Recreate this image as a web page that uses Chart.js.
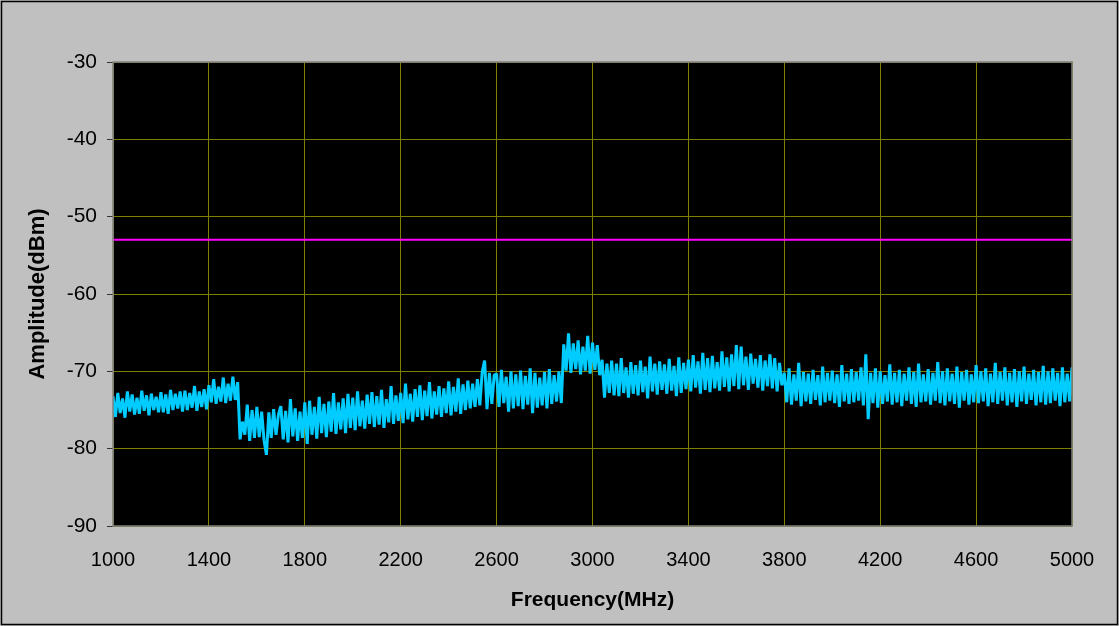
<!DOCTYPE html>
<html lang="en-US">
  <head>
    <meta charset="utf-8" />
    <title>Amplitude vs Frequency</title>
    <script src="https://cdn.jsdelivr.net/npm/chart.js@4/dist/chart.umd.min.js"></script>
    <style>
      html, body { margin: 0; padding: 0; background: #c0c0c0; }
      canvas { display: block; }
    </style>
  </head>
  <body>
    <canvas id="chart" width="1119" height="626"></canvas>
  </body>

  <script>
    // sweep: first frequency and step in MHz, one amplitude per step
    const freqStart = 1000
    const freqStep = 10
    const amplitude = [
      -73.2, -75.9, -72.8, -75.4, -73.5, -76.0, -72.6, -75.2, -73.0, -75.6,
      -73.4, -75.5, -72.5, -75.1, -73.1, -75.7, -72.9, -75.0, -73.3, -75.3,
      -72.7, -75.3, -73.0, -75.5, -72.4, -75.0, -72.9, -74.8, -72.6, -75.2,
      -72.5, -75.0, -72.8, -74.7, -71.9, -75.1, -72.6, -74.6, -72.3, -74.9,
      -71.8, -74.0, -71.0, -74.2, -72.0, -73.9, -70.8, -74.1, -71.6, -73.8,
      -70.7, -73.7, -71.4, -78.8, -76.5, -78.2, -74.3, -79.0, -75.0, -78.6,
      -74.6, -78.5, -75.2, -78.9, -80.8, -75.3, -78.6, -74.9, -78.2, -75.6,
      -74.5, -78.8, -75.1, -79.2, -73.6, -78.4, -74.8, -79.0, -75.2, -78.6,
      -74.0, -79.4, -73.8, -78.2, -74.6, -78.7, -73.3, -78.0, -74.2, -78.5,
      -73.9, -77.8, -72.8, -78.1, -74.0, -77.5, -73.5, -78.0, -72.9, -77.3,
      -73.4, -77.6, -72.6, -77.1, -73.8, -77.4, -73.0, -76.8, -72.7, -77.2,
      -73.2, -76.9, -72.4, -77.3, -73.6, -76.6, -71.9, -76.8, -73.1, -76.4,
      -72.8, -76.7, -71.6, -76.2, -72.9, -76.5, -72.3, -75.9, -71.8, -76.3,
      -72.5, -75.8, -71.4, -76.1, -72.6, -75.6, -71.9, -75.9, -72.2, -75.4,
      -71.3, -75.7, -72.0, -75.2, -70.9, -75.5, -71.7, -75.0, -71.2, -74.8,
      -71.6, -74.6, -71.0, -74.4, -70.1, -68.6, -74.9, -70.2, -74.2, -70.5,
      -70.3, -74.6, -69.8, -74.1, -70.7, -75.2, -70.0, -74.8, -70.4, -74.5,
      -69.9, -74.9, -70.6, -74.3, -69.6, -75.4, -70.2, -74.7, -70.8, -74.4,
      -70.1, -74.8, -69.7, -74.2, -70.5, -73.9, -70.0, -74.1, -66.5, -69.9,
      -65.1, -70.2, -66.4, -69.7, -66.0, -70.4, -66.8, -69.9, -65.4, -70.3,
      -66.3, -69.8, -66.6, -70.5, -68.5, -73.4, -69.0, -72.8, -68.6, -73.1,
      -69.0, -73.2, -68.3, -72.8, -69.5, -73.4, -68.8, -72.9, -69.2, -73.1,
      -68.6, -72.7, -69.4, -73.5, -68.1, -72.6, -69.0, -73.0, -68.7, -72.4,
      -69.1, -72.9, -68.4, -72.5, -69.3, -73.2, -68.2, -72.8, -68.9, -72.3,
      -68.5, -72.6, -67.9, -72.1, -68.7, -72.9, -67.6, -72.4, -68.3, -72.7,
      -68.0, -72.2, -68.8, -72.5, -67.4, -72.0, -68.2, -72.6, -67.8, -71.9,
      -66.6, -72.3, -66.8, -71.8, -68.1, -72.4, -67.7, -71.6, -68.4, -72.1,
      -67.9, -72.5, -68.6, -71.9, -67.8, -72.2, -68.3, -72.6, -68.9, -71.8,
      -70.2, -74.0, -69.6, -74.3, -70.4, -73.8, -68.9, -74.5, -70.1, -73.9,
      -70.3, -74.2, -69.8, -73.7, -70.5, -74.4, -69.4, -74.0, -70.2, -73.8,
      -69.9, -74.1, -70.4, -74.6, -69.2, -73.9, -70.3, -74.2, -69.7, -74.0,
      -70.1, -73.8, -69.5, -74.4, -67.8, -76.2, -70.2, -74.1, -69.6, -74.7,
      -70.0, -74.2, -70.5, -73.9, -69.1, -74.3, -70.2, -74.0, -69.8, -74.5,
      -70.3, -73.8, -69.5, -74.2, -70.1, -74.6, -69.0, -74.0, -70.4, -73.9,
      -69.7, -74.3, -70.2, -73.8, -68.8, -74.1, -70.0, -74.4, -69.6, -73.9,
      -70.3, -74.2, -69.4, -74.7, -70.1, -73.8, -69.8, -74.3, -70.4, -74.0,
      -69.2, -74.1, -70.0, -73.9, -69.6, -74.5, -70.3, -74.0, -68.9, -74.2,
      -70.1, -73.8, -69.5, -74.4, -70.2, -74.0, -69.7, -74.6, -70.0, -73.9,
      -69.4, -74.2, -70.3, -73.7, -69.8, -74.4, -70.1, -74.0, -69.3, -74.3,
      -70.0, -74.1, -69.6, -73.8, -70.2, -74.5, -69.5, -74.0, -70.3, -73.9,
      -69.5,
    ]

    // limit line
    const limitFreqs = [1000, 5000]
    const limitLevel = [-53, -53]

    const xTicks = [1000, 1400, 1800, 2200, 2600, 3000, 3400, 3800, 4200, 4600, 5000]
    const yTicks = [-90, -80, -70, -60, -50, -40, -30]

    const tracePoints = amplitude.map((y, i) => ({ x: freqStart + i * freqStep, y: y }))
    const limitPoints = limitFreqs.map((x, i) => ({ x: x, y: limitLevel[i] }))

    // grey page, black frame, black plot area with grey edge
    const frame = {
      id: "frame",
      beforeDraw(chart) {
        const { ctx, chartArea: a } = chart
        ctx.save()
        ctx.fillStyle = "#c0c0c0"
        ctx.fillRect(0, 0, chart.width, chart.height)
        ctx.strokeStyle = "#000"
        ctx.lineWidth = 1.5
        ctx.strokeRect(1.5, 1.5, chart.width - 3, chart.height - 3)
        ctx.fillStyle = "#000"
        ctx.fillRect(a.left, a.top, a.right - a.left, a.bottom - a.top)
        ctx.restore()
      },
      afterDraw(chart) {
        const { ctx, chartArea: a } = chart
        ctx.save()
        ctx.strokeStyle = "#808080"
        ctx.lineWidth = 1.5
        ctx.strokeRect(a.left, a.top, a.right - a.left, a.bottom - a.top)
        ctx.restore()
      },
    }

    Chart.defaults.font.family = "'Liberation Sans', Arial, sans-serif"
    Chart.defaults.color = "#000"

    new Chart(document.getElementById("chart").getContext("2d"), {
      type: "scatter",
      data: {
        datasets: [
          {
            data: tracePoints,
            showLine: true,
            borderColor: "#00ccff",
            borderWidth: 3,
            borderJoinStyle: "bevel",
            pointRadius: 0,
            tension: 0,
          },
          {
            data: limitPoints,
            showLine: true,
            borderColor: "#ff00ff",
            borderWidth: 2,
            pointRadius: 0,
          },
        ],
      },
      options: {
        responsive: false,
        animation: false,
        layout: { padding: { left: 0, top: 62, right: 47, bottom: 0 } },
        plugins: { legend: { display: false }, tooltip: { enabled: false } },
        scales: {
          x: {
            type: "linear",
            min: 1000,
            max: 5000,
            afterBuildTicks: (s) => { s.ticks = xTicks.map((v) => ({ value: v })) },
            afterFit: (s) => { s.height = 100 },
            grid: { color: "#808000", lineWidth: 1, drawTicks: false },
            border: { display: false },
            ticks: { padding: 22, font: { size: 20 }, maxRotation: 0, callback: (v) => String(v) },
            title: {
              display: true,
              text: "Frequency(MHz)",
              font: { size: 21, weight: "bold" },
              padding: { bottom: 13 },
            },
          },
          y: {
            min: -90,
            max: -30,
            afterBuildTicks: (s) => { s.ticks = yTicks.map((v) => ({ value: v })) },
            afterFit: (s) => { s.width = 113 },
            grid: { color: "#808000", lineWidth: 1, tickLength: 6, tickColor: "#333" },
            border: { display: false },
            ticks: { padding: 10, font: { size: 21 }, callback: (v) => String(v) },
            title: {
              display: true,
              text: "Amplitude(dBm)",
              font: { size: 22, weight: "bold" },
              padding: { top: 25 },
            },
          },
        },
      },
      plugins: [frame],
    })
  </script>
</html>
